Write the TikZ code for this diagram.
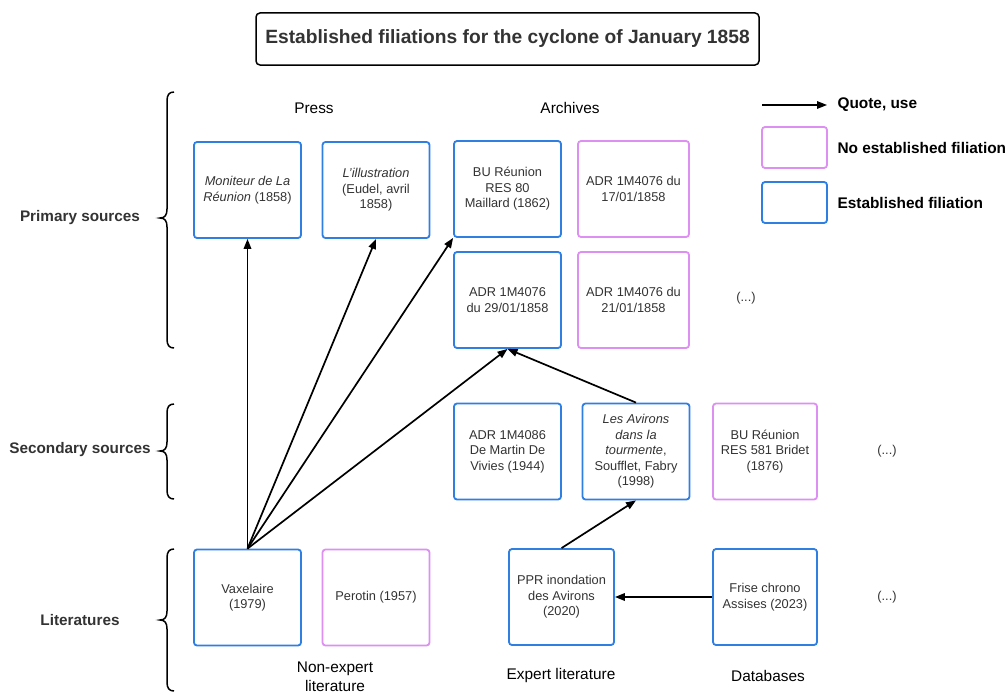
\documentclass[tikz,border=0pt]{standalone}
\usepackage{fontspec}
\setmainfont{Liberation Sans}
\usetikzlibrary{arrows.meta}
\definecolor{eblue}{HTML}{2F7FE3}
\definecolor{npink}{HTML}{DE90F2}
\definecolor{txt}{HTML}{333333}
\begin{document}
\begin{tikzpicture}[x=1pt,y=-1pt,
  box/.style={line width=1.8pt, rounded corners=3pt, minimum width=107pt, minimum height=96pt, align=center, font=\fontsize{12.8}{15.5}\selectfont, text=txt, inner sep=2pt},
  est/.style={box, draw=eblue},
  nof/.style={box, draw=npink},
  quote/.style={-{Triangle[length=10pt,width=7.5pt]}, line width=1.7pt, black},
  brace/.style={line width=1.5pt, black},
  cat/.style={font=\fontsize{15.3}{18}\selectfont\bfseries, text=txt},
  head/.style={font=\fontsize{15.4}{18.5}\selectfont, text=black, align=center},
  leg/.style={font=\fontsize{15.4}{18}\selectfont\bfseries, text=black, anchor=west},
  dots/.style={font=\fontsize{12.8}{15}\selectfont, text=txt}
]
\useasboundingbox (0,0) rectangle (1008,693);
\fill[white] (0,0) rectangle (1008,693);

% title
\node[draw=black, line width=1.5pt, rounded corners=4pt, minimum width=503pt, minimum height=52pt, font=\fontsize{19.2}{22}\selectfont\bfseries, text=txt] (title) at (507.5,39) {Established filiations for the cyclone of January 1858};

% category labels
\node[cat] (lprim) at (80,218) {Primary sources};
\node[cat] (lsec) at (80,450) {Secondary sources};
\node[cat] (llit) at (80,620) {Literatures};

% braces
\draw[brace] (174,92) .. controls (169,92) and (167,95) .. (167,101) -- (167,209) .. controls (167,215) and (165,218) .. (160,218) .. controls (165,218) and (167,221) .. (167,227) -- (167,339) .. controls (167,345) and (169,348) .. (174,348);
\draw[brace] (174,404) .. controls (169,404) and (167,407) .. (167,413) -- (167,442) .. controls (167,448) and (165,451) .. (160,451) .. controls (165,451) and (167,454) .. (167,460) -- (167,490) .. controls (167,496) and (169,499) .. (174,499);
\draw[brace] (174,549) .. controls (169,549) and (167,552) .. (167,558) -- (167,611) .. controls (167,617) and (165,620) .. (160,620) .. controls (165,620) and (167,623) .. (167,629) -- (167,682) .. controls (167,688) and (169,691) .. (174,691);

% headers
\node[head] (hpress) at (314,108) {Press};
\node[head] (harch) at (570,108) {Archives};
\node[head] (hnon) at (335,677) {Non-expert\\literature};
\node[head] (hexp) at (561,676) {Expert literature};
\node[head] (hdb) at (768,676) {Databases};

% primary
\node[est] (mon) at (247.5,190) {\textit{Moniteur de La}\\\textit{Réunion} (1858)};
\node[est] (ill) at (376,190) {\textit{L'illustration}\\(Eudel, avril\\1858)};
\node[est] (bu80) at (507.5,189) {BU Réunion\\RES 80\\Maillard (1862)};
\node[nof, minimum width=111pt] (a17) at (633.5,189) {ADR 1M4076 du\\17/01/1858};
\node[est] (a29) at (507.5,300) {ADR 1M4076\\du 29/01/1858};
\node[nof, minimum width=111pt] (a21) at (633.5,300) {ADR 1M4076 du\\21/01/1858};
\node[dots] (d1) at (746,298) {(...)};

% secondary
\node[est] (a86) at (507.5,451.5) {ADR 1M4086\\De Martin De\\Vivies (1944)};
\node[est] (avi) at (636,451.5) {\textit{Les Avirons}\\\textit{dans la}\\\textit{tourmente},\\Soufflet, Fabry\\(1998)};
\node[nof, minimum width=104pt] (bu581) at (765,451.5) {BU Réunion\\RES 581 Bridet\\(1876)};
\node[dots] (d2) at (887,451) {(...)};

% literatures
\node[est] (vax) at (247.5,597.5) {Vaxelaire\\(1979)};
\node[nof] (per) at (376,597.5) {Perotin (1957)};
\node[est, minimum width=105pt] (ppr) at (561.5,597) {PPR inondation\\des Avirons\\(2020)};
\node[est, minimum width=104pt] (fri) at (765,597) {Frise chrono\\Assises (2023)};
\node[dots] (d3) at (887,597) {(...)};

% connectors
\draw[quote] (vax.north) -- (mon.south);
\draw[quote] (vax.north) -- (ill.south);
\draw[quote] (vax.north) -- (bu80.south west);
\draw[quote] (vax.north) -- (a29.south);
\draw[quote] (avi.north) -- (a29.south);
\draw[quote] (ppr.north) -- (avi.south);
\draw[quote] (fri.west) -- (ppr.east);

% legend
\coordinate (la) at (762,105);
\coordinate (lb) at (827,105);
\draw[quote, line width=1.5pt] (la) -- (lb);
\node[leg] (lq) at (834,105) {Quote, use};
\node[draw=npink, line width=1.8pt, rounded corners=3pt, minimum width=65pt, minimum height=41pt] (lp) at (794.5,147.5) {};
\node[leg] (lpt) at (834,148) {No established filiation};
\node[draw=eblue, line width=1.8pt, rounded corners=3pt, minimum width=65pt, minimum height=41pt] (lbx) at (794.5,202.5) {};
\node[leg] (lbt) at (834,203) {Established filiation};
\end{tikzpicture}
\end{document}
